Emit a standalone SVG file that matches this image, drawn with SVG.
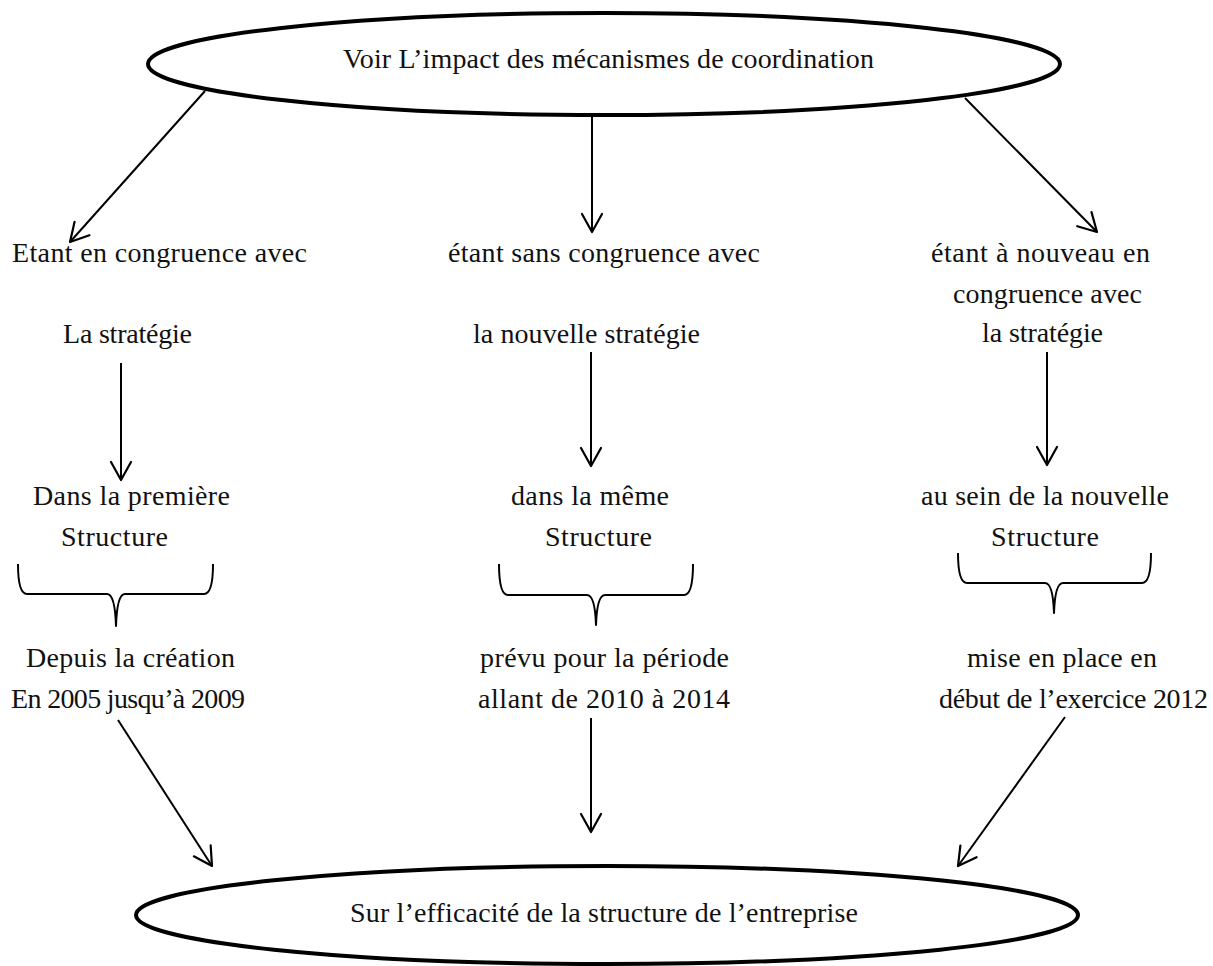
<svg xmlns="http://www.w3.org/2000/svg" width="1213" height="966" viewBox="0 0 1213 966">
  <style>
    .lbl { font-family: "Liberation Serif", "DejaVu Serif", serif; font-size: 28px; fill: #111; }
    .oval { fill: none; stroke: #000; stroke-width: 4; }
    .link { fill: none; stroke: #000; stroke-width: 2; marker-end: url(#head); }
    .brace { fill: none; stroke: #000; stroke-width: 2; stroke-linejoin: round; }
  </style>
  <defs>
    <marker id="head" viewBox="-21 -12 24 24" refX="0" refY="0" markerWidth="24" markerHeight="24" markerUnits="userSpaceOnUse" orient="auto">
      <path d="M-18,-10 L0,0 L-18,10" fill="none" stroke="#000" stroke-width="2.2" stroke-linecap="round" stroke-linejoin="round"/>
    </marker>
  </defs>
  <rect width="1213" height="966" fill="#fff"/>

  <!-- top goal -->
  <g id="impact">
    <ellipse class="oval" cx="604" cy="64" rx="456" ry="51"/>
    <text class="lbl" x="343" y="68" textLength="531" lengthAdjust="spacing">Voir L’impact des mécanismes de coordination</text>
  </g>

  <!-- column 1 -->
  <g id="congruence-1">
    <text class="lbl" x="12" y="262" textLength="295" lengthAdjust="spacing">Etant en congruence avec</text>
  </g>
  <g id="strategie-1">
    <text class="lbl" x="63" y="343" textLength="129" lengthAdjust="spacing">La stratégie</text>
  </g>
  <g id="structure-1">
    <text class="lbl" x="33" y="505" textLength="197" lengthAdjust="spacing">Dans la première</text>
    <text class="lbl" x="61" y="546" textLength="107" lengthAdjust="spacing">Structure</text>
  </g>
  <g id="brace-1">
    <path class="brace" d="M18,564 Q18,594 27,594 L107,594 Q115,594 116,626 Q117,594 125,594 L204,594 Q213,594 213,564"/>
  </g>
  <g id="periode-1">
    <text class="lbl" x="26" y="667" textLength="209" lengthAdjust="spacing">Depuis la création</text>
    <text class="lbl" x="11" y="708" textLength="234" lengthAdjust="spacing">En 2005 jusqu’à 2009</text>
  </g>

  <!-- column 2 -->
  <g id="congruence-2">
    <text class="lbl" x="448" y="262" textLength="312" lengthAdjust="spacing">étant sans congruence avec</text>
  </g>
  <g id="strategie-2">
    <text class="lbl" x="473" y="343" textLength="227" lengthAdjust="spacing">la nouvelle stratégie</text>
  </g>
  <g id="structure-2">
    <text class="lbl" x="511" y="505" textLength="158" lengthAdjust="spacing">dans la même</text>
    <text class="lbl" x="545" y="546" textLength="107" lengthAdjust="spacing">Structure</text>
  </g>
  <g id="brace-2">
    <path class="brace" d="M499,564 Q499,595 508,595 L587,595 Q595,595 596,625 Q597,595 605,595 L684,595 Q693,595 693,564"/>
  </g>
  <g id="periode-2">
    <text class="lbl" x="480" y="667" textLength="249" lengthAdjust="spacing">prévu pour la période</text>
    <text class="lbl" x="478" y="708" textLength="252" lengthAdjust="spacing">allant de 2010 à 2014</text>
  </g>

  <!-- column 3 -->
  <g id="congruence-3">
    <text class="lbl" x="931" y="262" textLength="219" lengthAdjust="spacing">étant à nouveau en</text>
    <text class="lbl" x="953" y="303" textLength="189" lengthAdjust="spacing">congruence avec</text>
    <text class="lbl" x="982" y="342" textLength="121" lengthAdjust="spacing">la stratégie</text>
  </g>
  <g id="structure-3">
    <text class="lbl" x="921" y="505" textLength="248" lengthAdjust="spacing">au sein de la nouvelle</text>
    <text class="lbl" x="991" y="546" textLength="108" lengthAdjust="spacing">Structure</text>
  </g>
  <g id="brace-3">
    <path class="brace" d="M958,553 Q958,583 967,583 L1045,583 Q1053,583 1054,613 Q1055,583 1063,583 L1142,583 Q1151,583 1151,553"/>
  </g>
  <g id="periode-3">
    <text class="lbl" x="967" y="667" textLength="190" lengthAdjust="spacing">mise en place en</text>
    <text class="lbl" x="939" y="708" textLength="269" lengthAdjust="spacing">début de l’exercice 2012</text>
  </g>

  <!-- bottom goal -->
  <g id="efficacite">
    <ellipse class="oval" cx="607" cy="915" rx="471" ry="49"/>
    <text class="lbl" x="350" y="922" textLength="508" lengthAdjust="spacing">Sur l’efficacité de la structure de l’entreprise</text>
  </g>

  <!-- connectors -->
  <g id="connectors">
    <line class="link" x1="205" y1="91" x2="70" y2="242"/>
    <line class="link" x1="592" y1="116" x2="592" y2="232"/>
    <line class="link" x1="965" y1="98" x2="1097" y2="232"/>
    <line class="link" x1="121" y1="363" x2="121" y2="480"/>
    <line class="link" x1="591" y1="352" x2="591" y2="466"/>
    <line class="link" x1="1047" y1="352" x2="1047" y2="465"/>
    <line class="link" x1="118" y1="720" x2="212" y2="866"/>
    <line class="link" x1="591" y1="718" x2="591" y2="832"/>
    <line class="link" x1="1065" y1="717" x2="958" y2="866"/>
  </g>
</svg>
